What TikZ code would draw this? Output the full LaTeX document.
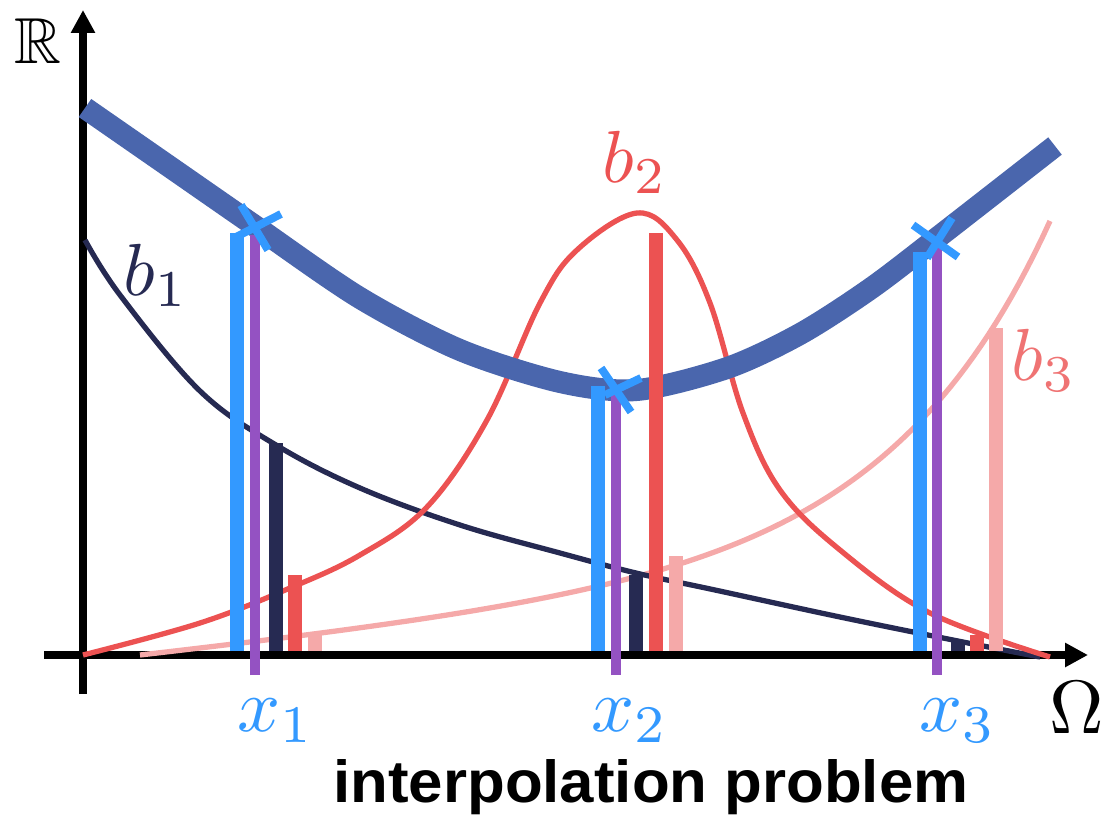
\documentclass[tikz,border=0pt]{standalone}
\usepackage{amssymb}
\usepackage[no-math]{fontspec}
\newfontfamily\capfont{Liberation Sans}
\usetikzlibrary{arrows.meta}
\definecolor{thickblue}{HTML}{4A66AD}
\definecolor{brightblue}{HTML}{3399FF}
\definecolor{vpurple}{HTML}{9452C2}
\definecolor{navy}{HTML}{262A52}
\definecolor{bred}{HTML}{EC5252}
\definecolor{bpink}{HTML}{F5A9A9}
\definecolor{bthreelab}{HTML}{EF7373}
\begin{document}
\begin{tikzpicture}[x=0.02cm,y=-0.02cm,
  axisline/.style={line width=4.5pt,-{Triangle[length=13pt,width=13pt]}},
  thincurve/.style={line width=3pt},
  blueband/.style={line width=12.5pt,thickblue},
  barline/.style={line width=8pt,line cap=butt},
  bluebar/.style={line width=8.5pt,line cap=butt,brightblue},
  purplebar/.style={line width=5.7pt,line cap=butt,vpurple},
  crossline/.style={line width=4.5pt,brightblue},
  blab/.style={anchor=base west,inner sep=0pt,scale=4.2,font=\fontsize{10}{12}\selectfont},
  xlab/.style={anchor=base west,inner sep=0pt,scale=4.3,text=brightblue,font=\fontsize{10}{12}\selectfont}]
\useasboundingbox (0,0) rectangle (1109,815);
% axes
\coordinate (ybot) at (83,694);
\coordinate (ytop) at (83,10);
\coordinate (xleft) at (44,655);
\coordinate (xright) at (1088,655);
\draw[axisline] (xleft) -- (xright);
\draw[axisline] (ybot) -- (ytop);
% thin curves
\draw[thincurve,bpink] plot[domain=140:1050,samples=120] (\x,{655-1.2*(exp(0.0062*(\x-140))-1)-0.108*(\x-140)});
\draw[thincurve,navy] plot[smooth,tension=0.6] coordinates {(85,240) (120,295) (200,391) (276,445) (360,488) (460,525) (560,553) (636,573) (715,590) (840,617) (958,641) (1040,657)};
\draw[thincurve,bred] plot[smooth,tension=0.6] coordinates {(83,655) (200,623) (290,588) (360,555) (427,507) (487,420) (540,303) (577,250) (637,213) (677,240) (710,303) (743,413) (780,490) (840,550) (930,613) (1050,657)};
% thick curve
\draw[blueband] plot[smooth,tension=0.5] coordinates {(85,108) (170,167) (255,226) (360,298) (460,350) (560,382) (637,390) (727,368) (800,334) (870,289) (937,238) (1055,146)};
% bars at x1
\draw[bluebar] (237,651) -- (237,233);
\draw[barline,navy] (276,651) -- (276,443);
\draw[barline,bred] (295,651) -- (295,575);
\draw[barline,bpink] (315,651) -- (315,635);
\draw[purplebar] (255,675) -- (255,235);
% bars at x2
\draw[bluebar] (598,651) -- (598,386);
\draw[barline,navy] (636,651) -- (636,575);
\draw[barline,bred] (656,651) -- (656,233);
\draw[barline,bpink] (676,651) -- (676,556);
\draw[purplebar] (616,675) -- (616,393);
% bars at x3
\draw[bluebar] (920,651) -- (920,252);
\draw[barline,navy] (958,651) -- (958,642);
\draw[barline,bred] (977,651) -- (977,635);
\draw[barline,bpink] (996,651) -- (996,328);
\draw[purplebar] (937,675) -- (937,247);
% crosses
\draw[crossline] (241,205) -- (268,250);
\draw[crossline] (236,237) -- (281,214);
\draw[crossline] (601,368) -- (631,412);
\draw[crossline] (605,395) -- (641,378);
\draw[crossline] (913,225) -- (958,257);
\draw[crossline] (927,258) -- (952,218);
% labels
\node[anchor=base west,inner sep=0pt,scale=3.7,font=\fontsize{10}{12}\selectfont] (R) at (13,63) {$\mathbb{R}$};
\node[anchor=base west,inner sep=0pt,scale=4.3,font=\fontsize{10}{12}\selectfont] (Om) at (1048,733) {$\Omega$};
\node[blab,text=navy] (b1) at (122,295) {$b_1$};
\node[blab,text=bred] (b2) at (601,182) {$b_2$};
\node[blab,text=bthreelab] (b3) at (1010,380) {$b_3$};
\node[xlab] (x1) at (236,731) {$x_1$};
\node[xlab] (x2) at (590,731) {$x_2$};
\node[xlab] (x3) at (918,731) {$x_3$};
\node[anchor=base west,inner sep=0pt] (cap) at (333,802) {\resizebox{12.7cm}{0.86cm}{\capfont\bfseries interpolation problem}};
\end{tikzpicture}
\end{document}
